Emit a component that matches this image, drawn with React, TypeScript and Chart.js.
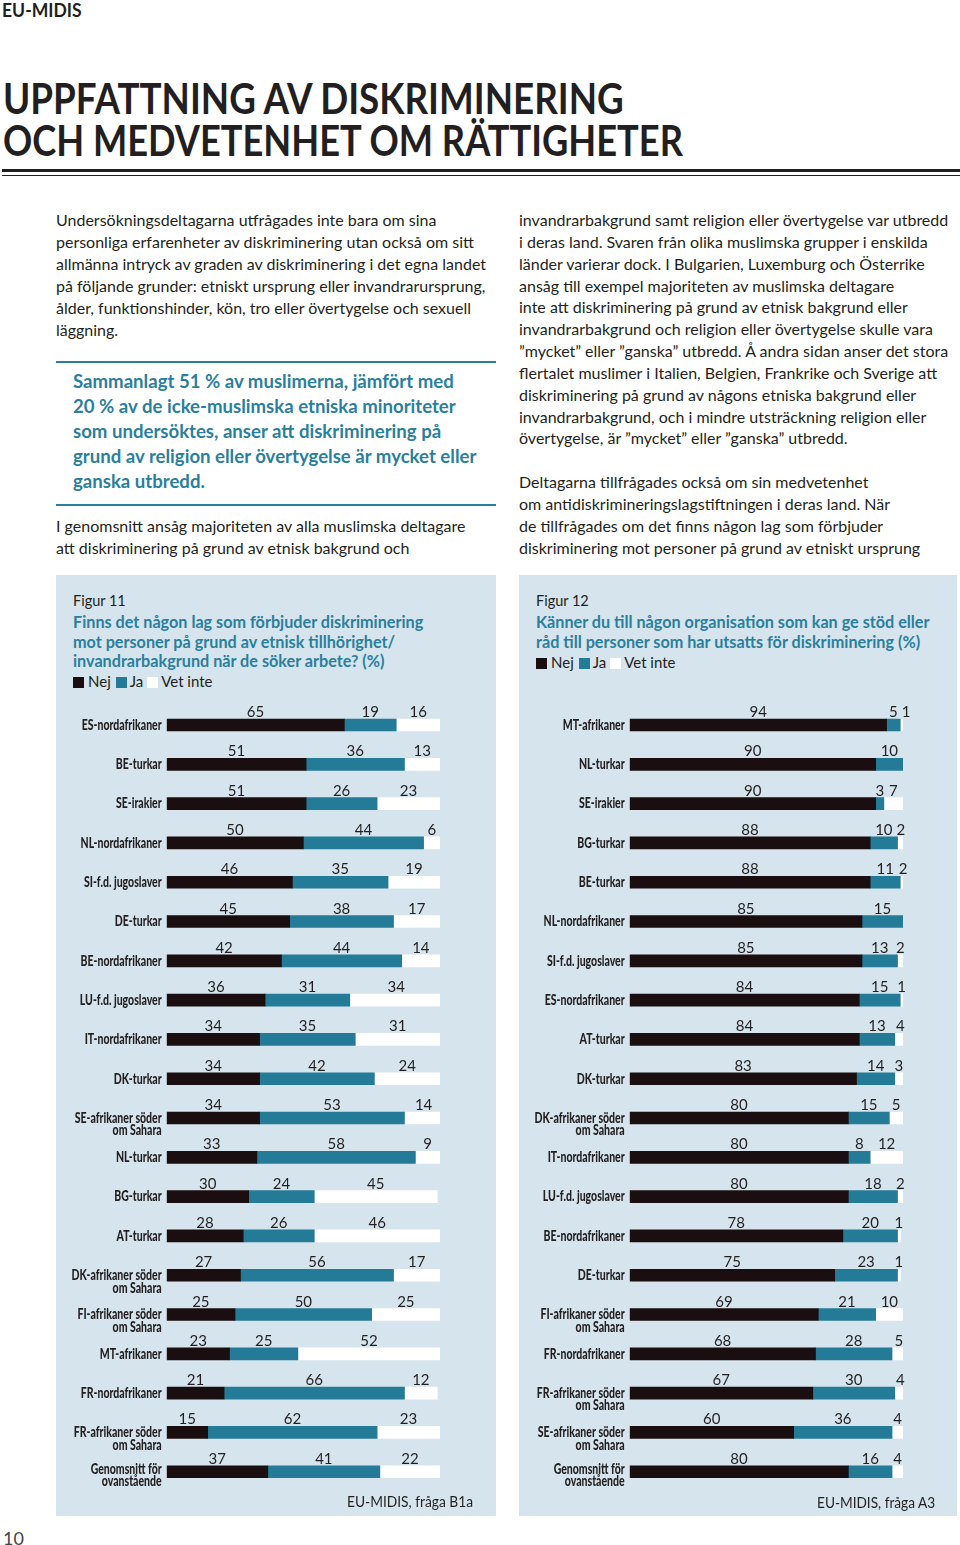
import React, { useEffect, useLayoutEffect, useRef, useState } from "react";
import { Chart, registerables } from "chart.js";

Chart.register(...registerables);

// ---------- data ----------
const seriesNames = ["Nej", "Ja", "Vet inte"];

const fig11Categories: (string | string[])[] = [
  "ES-nordafrikaner",
  "BE-turkar",
  "SE-irakier",
  "NL-nordafrikaner",
  "SI-f.d. jugoslaver",
  "DE-turkar",
  "BE-nordafrikaner",
  "LU-f.d. jugoslaver",
  "IT-nordafrikaner",
  "DK-turkar",
  ["SE-afrikaner söder", "om Sahara"],
  "NL-turkar",
  "BG-turkar",
  "AT-turkar",
  ["DK-afrikaner söder", "om Sahara"],
  ["FI-afrikaner söder", "om Sahara"],
  "MT-afrikaner",
  "FR-nordafrikaner",
  ["FR-afrikaner söder", "om Sahara"],
  ["Genomsnitt för", "ovanstående"],
];
const fig11Nej = [65, 51, 51, 50, 46, 45, 42, 36, 34, 34, 34, 33, 30, 28, 27, 25, 23, 21, 15, 37];
const fig11Ja = [19, 36, 26, 44, 35, 38, 44, 31, 35, 42, 53, 58, 24, 26, 56, 50, 25, 66, 62, 41];
const fig11VetInte = [16, 13, 23, 6, 19, 17, 14, 34, 31, 24, 14, 9, 45, 46, 17, 25, 52, 12, 23, 22];

const fig12Categories: (string | string[])[] = [
  "MT-afrikaner",
  "NL-turkar",
  "SE-irakier",
  "BG-turkar",
  "BE-turkar",
  "NL-nordafrikaner",
  "SI-f.d. jugoslaver",
  "ES-nordafrikaner",
  "AT-turkar",
  "DK-turkar",
  ["DK-afrikaner söder", "om Sahara"],
  "IT-nordafrikaner",
  "LU-f.d. jugoslaver",
  "BE-nordafrikaner",
  "DE-turkar",
  ["FI-afrikaner söder", "om Sahara"],
  "FR-nordafrikaner",
  ["FR-afrikaner söder", "om Sahara"],
  ["SE-afrikaner söder", "om Sahara"],
  ["Genomsnitt för", "ovanstående"],
];
const fig12Nej = [94, 90, 90, 88, 88, 85, 85, 84, 84, 83, 80, 80, 80, 78, 75, 69, 68, 67, 60, 80];
const fig12Ja = [5, 10, 3, 10, 11, 15, 13, 15, 13, 14, 15, 8, 18, 20, 23, 21, 28, 30, 36, 16];
const fig12VetInte = [1, 0, 7, 2, 2, 0, 2, 1, 4, 3, 5, 12, 2, 1, 1, 10, 5, 4, 4, 4];

// ---------- text ----------
const para1 = [
  "Undersökningsdeltagarna utfrågades inte bara om sina",
  "personliga erfarenheter av diskriminering utan också om sitt",
  "allmänna intryck av graden av diskriminering i det egna landet",
  "på följande grunder: etniskt ursprung eller invandrarursprung,",
  "ålder, funktionshinder, kön, tro eller övertygelse och sexuell",
  "läggning.",
];
const quote = [
  "Sammanlagt 51 % av muslimerna, jämfört med",
  "20 % av de icke-muslimska etniska minoriteter",
  "som undersöktes, anser att diskriminering på",
  "grund av religion eller övertygelse är mycket eller",
  "ganska utbredd.",
];
const para2 = [
  "I genomsnitt ansåg majoriteten av alla muslimska deltagare",
  "att diskriminering på grund av etnisk bakgrund och",
];
const para3 = [
  "invandrarbakgrund samt religion eller övertygelse var utbredd",
  "i deras land. Svaren från olika muslimska grupper i enskilda",
  "länder varierar dock. I Bulgarien, Luxemburg och Österrike",
  "ansåg till exempel majoriteten av muslimska deltagare",
  "inte att diskriminering på grund av etnisk bakgrund eller",
  "invandrarbakgrund och religion eller övertygelse skulle vara",
  "”mycket” eller ”ganska” utbredd. Å andra sidan anser det stora",
  "flertalet muslimer i Italien, Belgien, Frankrike och Sverige att",
  "diskriminering på grund av någons etniska bakgrund eller",
  "invandrarbakgrund, och i mindre utsträckning religion eller",
  "övertygelse, är ”mycket” eller ”ganska” utbredd.",
];
const para4 = [
  "Deltagarna tillfrågades också om sin medvetenhet",
  "om antidiskrimineringslagstiftningen i deras land. När",
  "de tillfrågades om det finns någon lag som förbjuder",
  "diskriminering mot personer på grund av etniskt ursprung",
];
const fig11Title = [
  "Finns det någon lag som förbjuder diskriminering",
  "mot personer på grund av etnisk tillhörighet/",
  "invandrarbakgrund när de söker arbete? (%)",
];
const fig12Title = [
  "Känner du till någon organisation som kan ge stöd eller",
  "råd till personer som har utsatts för diskriminering (%)",
];

// ---------- styles ----------
const TEXT = "#231f20";
const TEAL = "#2a7f9d";
const NEJ = "#1a0e10";
const JA = "#247b97";
const VET = "#ffffff";
const PANEL = "#d5e4ed";
const FONT = "Lato, 'Open Sans', sans-serif";

const labelPlugin = {
  id: "pageLabels",
  afterDatasetsDraw(chart: any) {
    const ctx = chart.ctx;
    const yScale = chart.scales.y;
    const xScale = chart.scales.x;
    const n = chart.data.labels.length;
    ctx.save();
    ctx.fillStyle = TEXT;
    // category labels
    ctx.font = "900 15px Lato";
    ctx.textAlign = "right";
    ctx.textBaseline = "middle";
    (chart.data.labels as any[]).forEach((lab, i) => {
      const y = yScale.getPixelForValue(i);
      const lines = Array.isArray(lab) ? lab : [lab];
      lines.forEach((ln: string, k: number) => {
        ctx.save();
        ctx.translate(xScale.left - 5, y + k * 12.5 - (lines.length > 1 && i === n - 1 ? 3 : 0));
        ctx.scale(0.7, 1);
        ctx.fillText(ln, 0, 0);
        ctx.restore();
      });
    });
    // value labels, centred on each segment, nudged right if they would touch
    ctx.font = "15px Lato";
    ctx.textAlign = "center";
    ctx.textBaseline = "alphabetic";
    for (let i = 0; i < n; i++) {
      let prevRight = -Infinity;
      chart.data.datasets.forEach((ds: any, di: number) => {
        const v = ds.data[i];
        if (!v) return;
        const bar = chart.getDatasetMeta(di).data[i];
        const p = bar.getProps(["x", "base", "y"], true);
        const txt = String(v);
        const w = ctx.measureText(txt).width;
        let cx = (p.x + p.base) / 2;
        if (cx - w / 2 < prevRight + 4) cx = prevRight + 4 + w / 2;
        ctx.fillText(txt, cx, p.y - 8);
        prevRight = cx + w / 2;
      });
    }
    ctx.restore();
  },
};

function BarChart(props: {
  categories: any[];
  nej: number[];
  ja: number[];
  vet: number[];
  left: number;
  top: number;
  width: number;
  height: number;
  padLeft: number;
  padRight: number;
  padTop: number;
  padBottom: number;
}) {
  const ref = useRef<HTMLCanvasElement>(null);
  useEffect(() => {
    const chart = new Chart(ref.current as HTMLCanvasElement, {
      type: "bar",
      data: {
        labels: props.categories,
        datasets: [
          { label: seriesNames[0], data: props.nej, backgroundColor: NEJ, barThickness: 12, borderWidth: 0 },
          { label: seriesNames[1], data: props.ja, backgroundColor: JA, barThickness: 12, borderWidth: 0 },
          { label: seriesNames[2], data: props.vet, backgroundColor: VET, barThickness: 12, borderWidth: 0 },
        ],
      },
      options: {
        indexAxis: "y",
        responsive: false,
        maintainAspectRatio: false,
        animation: false,
        layout: {
          padding: { left: props.padLeft, right: props.padRight, top: props.padTop, bottom: props.padBottom },
        },
        scales: {
          x: { stacked: true, min: 0, max: 100, display: false },
          y: { stacked: true, display: false },
        },
        plugins: { legend: { display: false }, tooltip: { enabled: false } },
      } as any,
      plugins: [labelPlugin as any],
    });
    return () => chart.destroy();
  }, []);
  return (
    <canvas
      ref={ref}
      width={props.width}
      height={props.height}
      style={{ position: "absolute", left: props.left, top: props.top, width: props.width, height: props.height }}
    />
  );
}

function FitText(props: { text: string; width: number; style: React.CSSProperties }) {
  const ref = useRef<HTMLSpanElement>(null);
  const [s, setS] = useState(1);
  useLayoutEffect(() => {
    if (ref.current) {
      const w = ref.current.offsetWidth;
      if (w > 0) setS(props.width / w);
    }
  }, []);
  return (
    <span
      ref={ref}
      style={{
        display: "inline-block",
        whiteSpace: "nowrap",
        transform: `scaleX(${s})`,
        transformOrigin: "left center",
        ...props.style,
      }}
    >
      {props.text}
    </span>
  );
}

function Lines(props: { lines: string[]; left: number; top: number; lh: number; style?: React.CSSProperties }) {
  return (
    <div style={{ position: "absolute", left: props.left, top: props.top, ...props.style }}>
      {props.lines.map((l, i) => (
        <div key={i} style={{ height: props.lh, lineHeight: props.lh + "px", whiteSpace: "nowrap" }}>
          {l}
        </div>
      ))}
    </div>
  );
}

function Legend(props: { left: number; top: number }) {
  const sq = (c: string): React.CSSProperties => ({
    display: "inline-block",
    width: 11,
    height: 11,
    background: c,
    verticalAlign: "middle",
    marginTop: -2,
  });
  return (
    <div
      style={{
        position: "absolute",
        left: props.left,
        top: props.top,
        fontSize: 15,
        lineHeight: "18px",
        color: TEXT,
        whiteSpace: "nowrap",
        fontFamily: FONT,
      }}
    >
      <span style={{ ...sq(NEJ), marginRight: 4 }} />
      <span style={{ marginRight: 5 }}>{seriesNames[0]}</span>
      <span style={{ ...sq(JA), marginRight: 3 }} />
      <span style={{ marginRight: 4 }}>{seriesNames[1]}</span>
      <span style={{ ...sq(VET), marginRight: 3 }} />
      <span>{seriesNames[2]}</span>
    </div>
  );
}

export default function App() {
  const body: React.CSSProperties = { fontFamily: FONT, fontSize: 16, color: TEXT };
  const quoteStyle: React.CSSProperties = { fontFamily: FONT, fontSize: 18.6, fontWeight: 700, color: TEAL };
  const figTitle: React.CSSProperties = { fontFamily: FONT, fontSize: 16.2, fontWeight: 700, color: TEAL };
  return (
    <div
      style={{
        position: "absolute",
        left: 0,
        top: 0,
        width: 960,
        height: 1545,
        background: "#fff",
        overflow: "hidden",
        fontFamily: FONT,
        color: TEXT,
      }}
    >
      {/* header */}
      <div style={{ position: "absolute", left: 2, top: 0, lineHeight: "20px" }}>
        <FitText text="EU-MIDIS" width={80} style={{ fontSize: 18, fontWeight: 700 }} />
      </div>
      <div style={{ position: "absolute", left: 3, top: 77, lineHeight: "42px", height: 42 }}>
        <FitText text="UPPFATTNING AV DISKRIMINERING" width={621} style={{ fontSize: 42, fontWeight: 700 }} />
      </div>
      <div style={{ position: "absolute", left: 3, top: 119, lineHeight: "42px", height: 42 }}>
        <FitText text="OCH MEDVETENHET OM RÄTTIGHETER" width={680} style={{ fontSize: 42, fontWeight: 700 }} />
      </div>
      <div style={{ position: "absolute", left: 2, top: 169, width: 958, height: 3, background: TEXT }} />
      <div style={{ position: "absolute", left: 2, top: 174.5, width: 958, height: 1.5, background: TEXT }} />

      {/* left column text */}
      <Lines lines={para1} left={56} top={209} lh={22} style={body} />
      <div style={{ position: "absolute", left: 56, top: 360.5, width: 440, height: 2, background: TEAL }} />
      <Lines lines={quote} left={73} top={368.5} lh={25} style={quoteStyle} />
      <div style={{ position: "absolute", left: 56, top: 503.5, width: 440, height: 2, background: TEAL }} />
      <Lines lines={para2} left={56} top={515} lh={22} style={body} />

      {/* right column text */}
      <Lines lines={para3} left={519} top={209} lh={21.85} style={body} />
      <Lines lines={para4} left={519} top={471} lh={21.95} style={body} />

      {/* panels */}
      <div style={{ position: "absolute", left: 56, top: 575, width: 440, height: 941, background: PANEL }} />
      <div style={{ position: "absolute", left: 519, top: 575, width: 438, height: 941, background: PANEL }} />

      <div style={{ position: "absolute", left: 73, top: 592, fontSize: 14.5, lineHeight: "18px" }}>Figur 11</div>
      <Lines lines={fig11Title} left={73} top={612} lh={19.5} style={figTitle} />
      <Legend left={73} top={672} />

      <div style={{ position: "absolute", left: 536, top: 592, fontSize: 14.5, lineHeight: "18px" }}>Figur 12</div>
      <Lines lines={fig12Title} left={536} top={612} lh={19.5} style={figTitle} />
      <Legend left={536} top={653} />

      <BarChart
        categories={fig11Categories}
        nej={fig11Nej}
        ja={fig11Ja}
        vet={fig11VetInte}
        left={56}
        top={695}
        width={440}
        height={800}
        padLeft={110.7}
        padRight={56}
        padTop={10.35}
        padBottom={3.6}
      />
      <BarChart
        categories={fig12Categories}
        nej={fig12Nej}
        ja={fig12Ja}
        vet={fig12VetInte}
        left={519}
        top={695}
        width={438}
        height={800}
        padLeft={110.7}
        padRight={54}
        padTop={10.35}
        padBottom={3.6}
      />

      <div style={{ position: "absolute", left: 347, top: 1491, lineHeight: "20px" }}>
        <FitText text="EU-MIDIS, fråga B1a" width={126} style={{ fontSize: 15.5 }} />
      </div>
      <div style={{ position: "absolute", left: 817, top: 1492, lineHeight: "20px" }}>
        <FitText text="EU-MIDIS, fråga A3" width={118} style={{ fontSize: 15.5 }} />
      </div>
      <div style={{ position: "absolute", left: 3, top: 1528, fontSize: 18, lineHeight: "20px", color: "#444" }}>10</div>
    </div>
  );
}
